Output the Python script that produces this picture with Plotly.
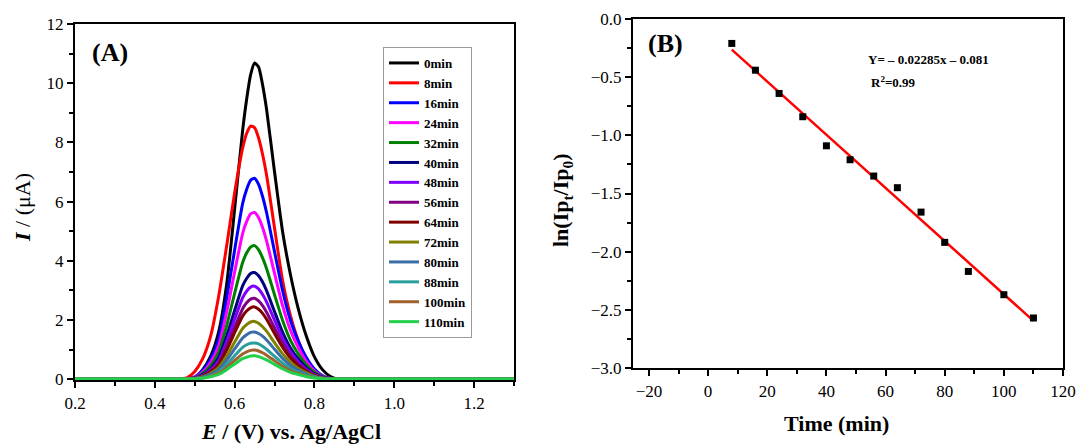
import plotly.graph_objects as go

# ---------------- Panel A data: DPV curves ----------------
potential = [0.20, 0.46, 0.48, 0.50, 0.52, 0.54, 0.56, 0.58, 0.60, 0.62, 0.63, 0.64, 0.65,
             0.66, 0.67, 0.68, 0.70, 0.72, 0.74, 0.76, 0.78, 0.80, 0.82, 0.84, 0.86, 0.88, 1.30]

labels = ["0min", "8min", "16min", "24min", "32min", "40min", "48min",
          "56min", "64min", "72min", "80min", "88min", "100min", "110min"]

colors = ["#000000", "#FF0000", "#0000FF", "#FF00FF", "#008000", "#000080", "#8000FF",
          "#800080", "#800000", "#808000", "#3A6EA8", "#2A9D9D", "#A0622D", "#22D04A"]

i_0min = [0, 0, 0, 0.05, 0.32, 0.78, 1.60, 3.20, 5.75, 8.40, 9.45, 10.28, 10.68,
          10.55, 9.95, 9.12, 7.00, 5.00, 3.52, 2.35, 1.44, 0.75, 0.32, 0.09, 0, 0, 0]
i_8min = [0, 0, 0.04, 0.26, 0.69, 1.46, 2.80, 4.50, 6.30, 7.80, 8.30, 8.55, 8.50,
          8.15, 7.60, 6.90, 5.10, 3.34, 2.14, 1.29, 0.69, 0.30, 0.09, 0, 0, 0, 0]
i_16min = [0, 0, 0, 0.08, 0.29, 0.68, 1.36, 2.73, 4.36, 5.93, 6.41, 6.72, 6.79,
           6.58, 6.17, 5.63, 4.30, 3.00, 1.98, 1.26, 0.72, 0.34, 0.12, 0.02, 0, 0, 0]
i_24min = [0, 0, 0, 0.07, 0.24, 0.57, 1.13, 2.26, 3.62, 4.92, 5.32, 5.58, 5.63,
           5.46, 5.12, 4.67, 3.57, 2.49, 1.64, 1.05, 0.59, 0.28, 0.10, 0.02, 0, 0, 0]
i_32min = [0, 0, 0, 0.05, 0.19, 0.45, 0.91, 1.81, 2.90, 3.94, 4.26, 4.46, 4.51,
           4.37, 4.10, 3.74, 2.85, 1.99, 1.31, 0.84, 0.48, 0.23, 0.08, 0.01, 0, 0, 0]
i_40min = [0, 0, 0, 0.04, 0.15, 0.36, 0.72, 1.45, 2.32, 3.15, 3.40, 3.57, 3.60,
           3.49, 3.28, 2.99, 2.28, 1.59, 1.05, 0.67, 0.38, 0.18, 0.07, 0.01, 0, 0, 0]
i_48min = [0, 0, 0, 0.04, 0.13, 0.32, 0.63, 1.26, 2.02, 2.75, 2.97, 3.11, 3.14,
           3.05, 2.86, 2.61, 1.99, 1.39, 0.92, 0.58, 0.33, 0.16, 0.06, 0.01, 0, 0, 0]
i_56min = [0, 0, 0, 0.03, 0.12, 0.27, 0.55, 1.10, 1.75, 2.38, 2.58, 2.70, 2.73,
           2.64, 2.48, 2.26, 1.73, 1.21, 0.79, 0.51, 0.29, 0.14, 0.05, 0.01, 0, 0, 0]
i_64min = [0, 0, 0, 0.03, 0.10, 0.25, 0.49, 0.98, 1.57, 2.13, 2.30, 2.41, 2.44,
           2.36, 2.22, 2.02, 1.54, 1.08, 0.71, 0.45, 0.26, 0.12, 0.04, 0.01, 0, 0, 0]
i_72min = [0, 0, 0, 0.02, 0.08, 0.20, 0.39, 0.78, 1.25, 1.71, 1.84, 1.93, 1.95,
           1.89, 1.77, 1.62, 1.23, 0.86, 0.57, 0.36, 0.21, 0.10, 0.04, 0.01, 0, 0, 0]
i_80min = [0, 0, 0, 0.02, 0.07, 0.16, 0.32, 0.64, 1.02, 1.39, 1.50, 1.58, 1.59,
           1.54, 1.45, 1.32, 1.01, 0.70, 0.46, 0.30, 0.17, 0.08, 0.03, 0, 0, 0, 0]
i_88min = [0, 0, 0, 0.01, 0.05, 0.12, 0.25, 0.49, 0.79, 1.07, 1.16, 1.21, 1.22,
           1.19, 1.11, 1.01, 0.77, 0.54, 0.36, 0.23, 0.13, 0.06, 0.02, 0, 0, 0, 0]
i_100min = [0, 0, 0, 0.01, 0.04, 0.10, 0.20, 0.39, 0.63, 0.85, 0.92, 0.97, 0.98,
            0.95, 0.89, 0.81, 0.62, 0.43, 0.28, 0.18, 0.10, 0.05, 0.02, 0, 0, 0, 0]
i_110min = [0, 0, 0, 0.01, 0.03, 0.08, 0.16, 0.32, 0.51, 0.69, 0.74, 0.78, 0.79,
            0.76, 0.71, 0.65, 0.50, 0.35, 0.23, 0.15, 0.08, 0.04, 0.01, 0, 0, 0, 0]

currents = [i_0min, i_8min, i_16min, i_24min, i_32min, i_40min, i_48min,
            i_56min, i_64min, i_72min, i_80min, i_88min, i_100min, i_110min]

# ---------------- Panel B data ----------------
time_min = [8, 16, 24, 32, 40, 48, 56, 64, 72, 80, 88, 100, 110]
ln_ratio = [-0.21, -0.44, -0.64, -0.84, -1.09, -1.21, -1.35, -1.45, -1.66, -1.92, -2.17, -2.37, -2.57]
fit_slope = -0.02285
fit_intercept = -0.081

FONT = "Times New Roman, Liberation Serif, serif"

fig = go.Figure()

for lab, col, cur in zip(labels, colors, currents):
    fig.add_trace(go.Scatter(
        x=potential, y=cur, mode="lines", name="<b>" + lab + "</b>",
        line=dict(color=col, width=3, shape="spline", smoothing=0.6),
        xaxis="x", yaxis="y"))

fit_x = [min(time_min), max(time_min)]
fit_y = [fit_slope * t + fit_intercept for t in fit_x]
fig.add_trace(go.Scatter(x=fit_x, y=fit_y, mode="lines", showlegend=False,
                         line=dict(color="#FF0000", width=2.5), xaxis="x2", yaxis="y2"))
fig.add_trace(go.Scatter(x=time_min, y=ln_ratio, mode="markers", showlegend=False,
                         marker=dict(symbol="square", size=7, color="#000000"),
                         xaxis="x2", yaxis="y2"))

W, H = 1078, 445
def px(x):
    return x / W
def py(y):
    return 1 - y / H

def axis_style(minor_dtick):
    return dict(showline=True, linecolor="#000000", linewidth=2.2, mirror=True,
                ticks="outside", ticklen=6, tickwidth=2, tickcolor="#000000",
                showgrid=False, zeroline=False, automargin=False,
                tickfont=dict(family=FONT, size=17, color="#000000"),
                minor=dict(ticks="outside", ticklen=3.5, tickwidth=2,
                           tickcolor="#000000", dtick=minor_dtick))

fig.update_layout(
    width=W, height=H,
    margin=dict(l=0, r=0, t=0, b=0),
    paper_bgcolor="white", plot_bgcolor="white",
    font=dict(family=FONT, color="#000000"),
    xaxis=dict(domain=[px(75), px(514)], range=[0.2, 1.3], dtick=0.2, tick0=0.2,
               anchor="y", tickformat=".1f", **axis_style(0.1)),
    yaxis=dict(domain=[py(380), py(24)], range=[-0.03, 12], dtick=2, tick0=0,
               anchor="x", **axis_style(1)),
    xaxis2=dict(domain=[px(633), px(1063)], range=[-25.4, 120], dtick=20, tick0=0,
                anchor="y2", **axis_style(10)),
    yaxis2=dict(domain=[py(368), py(19)], range=[-3.0, 0.0], dtick=0.5, tick0=0,
                anchor="x2", tickformat=".1f", **axis_style(0.25)),
    legend=dict(x=px(383), y=py(47), xanchor="left", yanchor="top",
                bordercolor="#9a9a9a", borderwidth=1, bgcolor="white",
                font=dict(family=FONT, size=13, color="#000000"),
                tracegroupgap=0, itemwidth=30),
    showlegend=True,
)

def ann(text, x, y, size, xanchor="left", angle=0):
    return dict(text=text, x=px(x), y=py(y), xref="paper", yref="paper",
                xanchor=xanchor, yanchor="middle", showarrow=False, textangle=angle,
                font=dict(family=FONT, size=size, color="#000000"))

annotations = [
    ann("<b>(A)</b>", 90, 52, 26),
    ann("<b>(B)</b>", 646, 43, 26),
    ann("<b>Y= – 0.02285x – 0.081</b>", 866, 59, 13),
    ann("<b>R<sup>2</sup>=0.99</b>", 869, 82, 13),
    ann("<b><i>E</i> / (V) vs. Ag/AgCl</b>", 291, 431, 22, xanchor="center"),
    ann("<b><i>I</i></b> / (μA)", 22, 208, 22, xanchor="center", angle=-90),
    ann("<b>Time (min)</b>", 836, 423, 22, xanchor="center"),
    ann("<b>ln(Ip<sub>t</sub>/Ip<sub>0</sub>)</b>", 562, 200, 22, xanchor="center", angle=-90),
]
fig.update_layout(annotations=annotations)

fig.write_html("out.html")
